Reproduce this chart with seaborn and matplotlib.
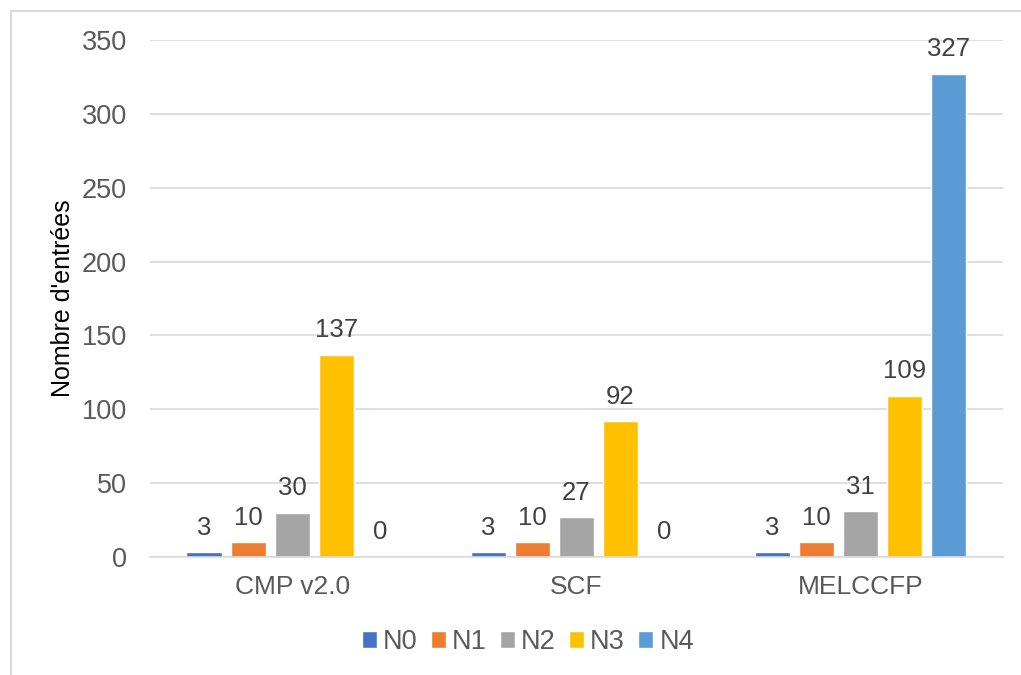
import matplotlib
matplotlib.use("Agg")
import matplotlib.pyplot as plt
import seaborn as sns
import pandas as pd
from matplotlib.patches import Rectangle

categories = ["CMP v2.0", "SCF", "MELCCFP"]
series = ["N0", "N1", "N2", "N3", "N4"]
values_N0 = [3, 3, 3]
values_N1 = [10, 10, 10]
values_N2 = [30, 27, 31]
values_N3 = [137, 92, 109]
values_N4 = [0, 0, 327]
colors = ["#4472C4", "#ED7D31", "#A5A5A5", "#FFC000", "#5B9BD5"]

rows = []
for s, vals in zip(series, [values_N0, values_N1, values_N2, values_N3, values_N4]):
    for c, v in zip(categories, vals):
        rows.append({"cat": c, "serie": s, "val": v})
df = pd.DataFrame(rows)

sns.set_theme(style="white")
plt.rcParams['font.family'] = ['Liberation Sans', 'DejaVu Sans']
txt = "#595959"

fig = plt.figure(figsize=(10.21, 6.75), dpi=100)
ax = fig.add_axes([0.147, 0.175, 0.835, 0.7657])

sns.barplot(data=df, x="cat", y="val", hue="serie", hue_order=series, order=categories,
            palette=colors, width=0.775, gap=0.2, saturation=1, ax=ax, legend=True,
            err_kws={"linewidth": 0})

for cont in ax.containers:
    ax.bar_label(cont, fmt="%d", padding=9, fontsize=18.5, color="#404040")

ax.set_ylim(0, 350)
ax.set_yticks(range(0, 351, 50))
ax.yaxis.grid(True, color="#D9D9D9", linewidth=1.2)
ax.set_axisbelow(True)
for sp in ["top", "right", "left"]:
    ax.spines[sp].set_visible(False)
ax.spines["bottom"].set_color("#D9D9D9")
ax.spines["bottom"].set_linewidth(1.2)
ax.tick_params(axis="x", length=0, labelsize=19, labelcolor=txt, pad=13)
ax.tick_params(axis="y", length=0, labelsize=19.5, labelcolor=txt, pad=16.5)
ax.set_xlabel("")
ax.set_ylabel("Nombre d'entrées", fontsize=18, color="black", labelpad=5)

handles, labels = ax.get_legend_handles_labels()
ax.legend(handles, labels, loc="center", bbox_to_anchor=(0.517, 0.049), bbox_transform=fig.transFigure,
          ncol=5, frameon=False, fontsize=19.5, labelcolor=txt, handlelength=0.55, handleheight=0.55,
          handletextpad=0.22, columnspacing=0.5)

fig.patches.append(Rectangle((11/1021, -0.1), 1.2, 1 - 11/675 + 0.1, transform=fig.transFigure,
                             fill=False, edgecolor="#D9D9D9", linewidth=1.5))

fig.savefig("out.png", dpi=100)
